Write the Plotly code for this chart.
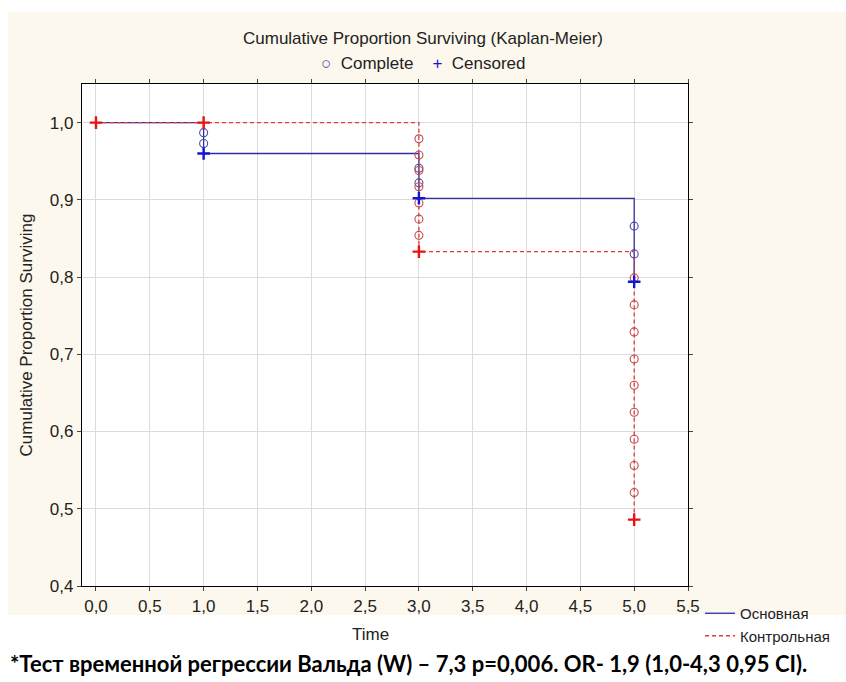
import plotly.graph_objects as go

# Kaplan-Meier estimates for the two groups (time, cumulative proportion surviving)
main_time = [0.0, 1.0, 3.0, 5.0]
main_surv = [1.0, 0.960, 0.902, 0.794]
ctrl_time = [0.0, 1.0, 3.0, 5.0]
ctrl_surv = [1.0, 1.0, 0.833, 0.486]

# Complete (event) observations
main_event_time = [1, 1, 3, 3, 5, 5]
main_event_surv = [0.987, 0.973, 0.941, 0.922, 0.866, 0.830]
ctrl_event_time = [3, 3, 3, 3, 3, 3, 3, 5, 5, 5, 5, 5, 5, 5, 5, 5]
ctrl_event_surv = [0.979, 0.958, 0.938, 0.917, 0.896, 0.875, 0.854,
                   0.799, 0.764, 0.729, 0.694, 0.660, 0.625, 0.590, 0.556, 0.521]

# Censored observations
main_cens_time = [1, 3, 5]
main_cens_surv = [0.960, 0.902, 0.794]
ctrl_cens_time = [0, 1, 3, 5]
ctrl_cens_surv = [1.0, 1.0, 0.833, 0.486]

group_names = ["Основная", "Контрольная"]

BLUE_LINE = "#2f2fa0"
RED_LINE = "#e03a3a"
BLUE_CIRCLE = "#4b4ba8"
RED_CIRCLE = "#c24a4a"
BLUE_CROSS = "#1414d2"
RED_CROSS = "#e81414"
CREAM = "#fcf8ee"
FONT = "Liberation Sans, Arial, sans-serif"
TXT = "#222"

fig = go.Figure()

fig.add_trace(go.Scatter(
    x=main_time, y=main_surv, mode="lines", line_shape="hv",
    line=dict(color=BLUE_LINE, width=1.3), name=group_names[0]))
fig.add_trace(go.Scatter(
    x=ctrl_time, y=ctrl_surv, mode="lines", line_shape="hv",
    line=dict(color=RED_LINE, width=1.3, dash="4px,3px"), name=group_names[1]))

fig.add_trace(go.Scatter(
    x=main_event_time, y=main_event_surv, mode="markers", showlegend=False,
    marker=dict(symbol="circle-open", size=8, color=BLUE_CIRCLE, line=dict(width=1.1))))
fig.add_trace(go.Scatter(
    x=ctrl_event_time, y=ctrl_event_surv, mode="markers", showlegend=False,
    marker=dict(symbol="circle-open", size=8, color=RED_CIRCLE, line=dict(width=1.1))))

fig.add_trace(go.Scatter(
    x=main_cens_time, y=main_cens_surv, mode="markers", showlegend=False,
    marker=dict(symbol="cross-thin-open", size=9, color=BLUE_CROSS, line=dict(width=2.4, color=BLUE_CROSS))))
fig.add_trace(go.Scatter(
    x=ctrl_cens_time, y=ctrl_cens_surv, mode="markers", showlegend=False,
    marker=dict(symbol="cross-thin-open", size=9, color=RED_CROSS, line=dict(width=2.4, color=RED_CROSS))))

W, H = 846, 682
L, R, T, B = 82, 688, 84, 586
pw, ph = R - L, B - T


def px_x(p):
    return (p - L) / pw


def px_y(p):
    return (B - p) / ph


axis_common = dict(
    showline=True, linecolor="black", linewidth=1.2, mirror="ticks",
    ticks="outside", ticklen=4, tickcolor="#444", tickwidth=1,
    showgrid=True, gridcolor="#dcdcdc", gridwidth=1, zeroline=False,
    tickfont=dict(family=FONT, size=17, color=TXT), tickformat=".1f",
)

fig.update_layout(
    width=W, height=H,
    margin=dict(l=L, r=W - R, t=T, b=H - B, autoexpand=False),
    paper_bgcolor="white", plot_bgcolor="white",
    separators=", ",
    font=dict(family=FONT, color=TXT),
    xaxis=dict(range=[-0.13, 5.5], dtick=0.5, tick0=0, **axis_common),
    yaxis=dict(range=[0.4, 1.05], dtick=0.1, tick0=0.4,
               title=dict(text="Cumulative Proportion Surviving",
                          font=dict(family=FONT, size=17, color=TXT), standoff=12),
               **axis_common),
    legend=dict(x=px_x(700), y=px_y(597), xanchor="left", yanchor="top",
                bgcolor="rgba(0,0,0,0)", font=dict(family=FONT, size=15, color=TXT),
                itemwidth=30, tracegroupgap=0),
    shapes=[
        dict(type="rect", xref="paper", yref="paper", layer="below",
             x0=px_x(8), x1=px_x(846), y0=px_y(615), y1=px_y(12),
             fillcolor=CREAM, line=dict(width=0)),
        dict(type="rect", xref="paper", yref="paper", layer="below",
             x0=0, x1=1, y0=0, y1=1, fillcolor="white", line=dict(width=0)),
    ],
    annotations=[
        dict(text="Cumulative Proportion Surviving (Kaplan-Meier)",
             xref="paper", yref="paper", x=px_x(423), y=px_y(38),
             xanchor="center", yanchor="middle",
             showarrow=False, font=dict(family=FONT, size=17, color=TXT)),
        dict(text=f'<span style="color:{BLUE_CIRCLE}">○</span>  Complete    '
                  f'<span style="color:{BLUE_CROSS}">+</span>  Censored',
             xref="paper", yref="paper", x=px_x(423), y=px_y(63),
             xanchor="center", yanchor="middle",
             showarrow=False, font=dict(family=FONT, size=17, color=TXT)),
        dict(text="Time", xref="paper", yref="paper", x=px_x(370), y=px_y(634),
             xanchor="center", yanchor="middle",
             showarrow=False, font=dict(family=FONT, size=17, color=TXT)),
        dict(text="<b>*Тест временной регрессии Вальда (W) – 7,3 p=0,006. OR- 1,9 (1,0-4,3 0,95 CI).</b>",
             xref="paper", yref="paper", x=px_x(8), y=px_y(663), xanchor="left", yanchor="middle",
             showarrow=False, font=dict(family="Lato, Noto Sans, sans-serif", size=22, color="black")),
    ],
)

fig.write_html("out.html")
